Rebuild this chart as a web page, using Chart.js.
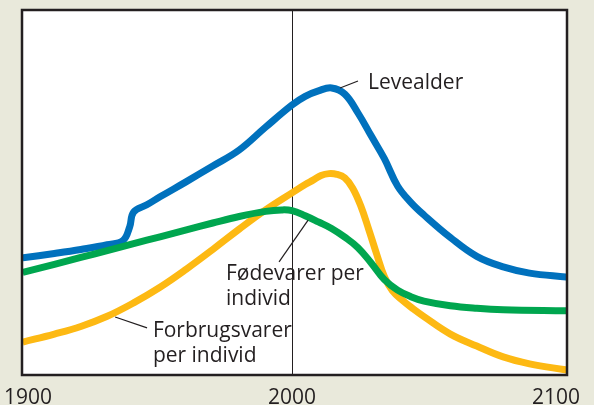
<!DOCTYPE html>
<html>
<head>
<meta charset="utf-8">
<script src="https://cdn.jsdelivr.net/npm/chart.js@4"></script>
<style>
  html, body { margin: 0; padding: 0; background: #e9e9db; }
  canvas { display: block; }
</style>
</head>
<body>
<canvas id="c" width="594" height="405"></canvas>
<script>
// ---- data (years, relative level 0..100) ----
const levealderYears = [1898, 1910, 1920, 1930, 1936, 1938.5, 1940, 1945, 1950, 1960, 1970, 1980, 1990, 2000, 2005, 2010, 2015, 2020, 2025, 2030, 2035, 2040, 2045, 2050, 2060, 2070, 2080, 2090, 2104];
const levealderValues = [32.0, 33.2, 34.3, 35.6, 36.8, 40.5, 44.6, 46.6, 48.8, 53.0, 57.3, 61.7, 68.0, 74.1, 76.5, 78.0, 78.8, 77.1, 71.9, 65.6, 59.3, 51.8, 47.3, 43.8, 37.6, 32.4, 29.5, 27.8, 26.7];

const foedevarerYears = [1898, 1910, 1920, 1930, 1940, 1950, 1960, 1970, 1980, 1990, 1996, 2000, 2005, 2010, 2015, 2020, 2025, 2030, 2035, 2040, 2045, 2050, 2060, 2070, 2080, 2104];
const foedevarerValues = [28.0, 30.2, 32.1, 34.0, 35.9, 37.8, 39.7, 41.6, 43.4, 44.8, 45.2, 45.0, 43.6, 41.9, 40.1, 37.7, 34.8, 30.6, 26.0, 23.1, 21.3, 20.1, 18.8, 18.1, 17.7, 17.4];

const forbrugYears = [1898, 1910, 1920, 1930, 1940, 1950, 1960, 1970, 1980, 1990, 2000, 2005, 2008, 2011, 2014, 2017, 2020, 2023, 2026, 2029, 2032, 2035, 2038, 2042, 2046, 2050, 2060, 2070, 2080, 2090, 2104];
const forbrugValues = [8.8, 11.0, 13.1, 15.9, 19.6, 23.9, 28.9, 34.3, 39.9, 45.2, 49.9, 52.2, 53.4, 54.7, 55.2, 55.0, 54.0, 51.2, 46.4, 40.0, 33.2, 26.8, 23.0, 20.2, 17.9, 15.8, 11.0, 7.7, 4.7, 2.8, 1.1];

const tickYears = [1900, 2000, 2100];
const markerYear = 2000;

const seriesNames = ['Levealder', 'Fødevarer per individ', 'Forbrugsvarer per individ'];

function pts(xs, ys) { return xs.map((x, i) => ({ x: x, y: ys[i] })); }

const INK = '#231f20';
const FONT = '"Open Sans", "Noto Sans", sans-serif';

// Labels + leader lines, positioned in data units
const notes = [
  { lines: ['Levealder'], x: 2028.8, y: 78.5, lead: [[2018.2, 78.8], [2025, 80.7]] },
  { lines: ['Fødevarer per', 'individ'], x: 1975, y: 25.9, lead: [[1995.1, 30.9], [2006.1, 42.4]] },
  { lines: ['Forbrugsvarer', 'per individ'], x: 1947.3, y: 10.2, lead: [[1933, 15.7], [1945.1, 12.7]] }
];

const decorPlugin = {
  id: 'decor',
  beforeDatasetsDraw(chart) {
    const { ctx, chartArea: a, scales: { x, y } } = chart;
    ctx.save();
    ctx.fillStyle = '#ffffff';
    ctx.fillRect(a.left, a.top, a.right - a.left, a.bottom - a.top);
    const vx = Math.round(x.getPixelForValue(markerYear)) + 0.5;
    ctx.strokeStyle = INK;
    ctx.lineWidth = 1;
    ctx.beginPath();
    ctx.moveTo(vx, a.top);
    ctx.lineTo(vx, a.bottom);
    ctx.stroke();
    ctx.restore();
  },
  afterDatasetsDraw(chart) {
    const { ctx, chartArea: a, scales: { x, y } } = chart;
    ctx.save();
    ctx.strokeStyle = INK;
    ctx.lineWidth = 2.5;
    ctx.strokeRect(a.left - 1, a.top - 1, a.right - a.left + 2, a.bottom - a.top + 2);
    ctx.fillStyle = INK;
    ctx.font = '21px ' + FONT;
    ctx.textBaseline = 'alphabetic';
    ctx.textAlign = 'left';
    notes.forEach(n => {
      const px = x.getPixelForValue(n.x);
      const py = y.getPixelForValue(n.y);
      n.lines.forEach((t, i) => ctx.fillText(t, px, py + i * 25));
      ctx.lineWidth = 1.2;
      ctx.beginPath();
      ctx.moveTo(x.getPixelForValue(n.lead[0][0]), y.getPixelForValue(n.lead[0][1]));
      ctx.lineTo(x.getPixelForValue(n.lead[1][0]), y.getPixelForValue(n.lead[1][1]));
      ctx.stroke();
    });
    ctx.restore();
  }
};

const common = { borderWidth: 7, pointRadius: 0, fill: false, tension: 0.4, clip: 0, borderCapStyle: 'butt', borderJoinStyle: 'round' };

new Chart(document.getElementById('c'), {
  type: 'line',
  data: {
    datasets: [
      Object.assign({ label: seriesNames[1], data: pts(foedevarerYears, foedevarerValues), borderColor: '#00a64f' }, common),
      Object.assign({ label: seriesNames[0], data: pts(levealderYears, levealderValues), borderColor: '#0071bd' }, common),
      Object.assign({ label: seriesNames[2], data: pts(forbrugYears, forbrugValues), borderColor: '#fdb913' }, common)
    ]
  },
  options: {
    responsive: false,
    animation: false,
    layout: { padding: { left: 23, right: 28, top: 11, bottom: 0 } },
    plugins: { legend: { display: false }, tooltip: { enabled: false } },
    scales: {
      x: {
        type: 'linear',
        min: 1898.1,
        max: 2103.8,
        grid: { display: false, drawTicks: false },
        border: { display: false },
        afterBuildTicks: s => { s.ticks = tickYears.map(v => ({ value: v })); },
        afterFit: s => { s.height = 31; s.paddingLeft = 0; s.paddingRight = 0; },
        ticks: {
          autoSkip: false, maxRotation: 0, padding: 11,
          color: INK,
          font: { family: FONT, size: 21 },
          callback: v => String(v)
        }
      },
      y: {
        type: 'linear', min: 0, max: 100, display: false
      }
    }
  },
  plugins: [decorPlugin]
});
</script>
</body>
</html>
